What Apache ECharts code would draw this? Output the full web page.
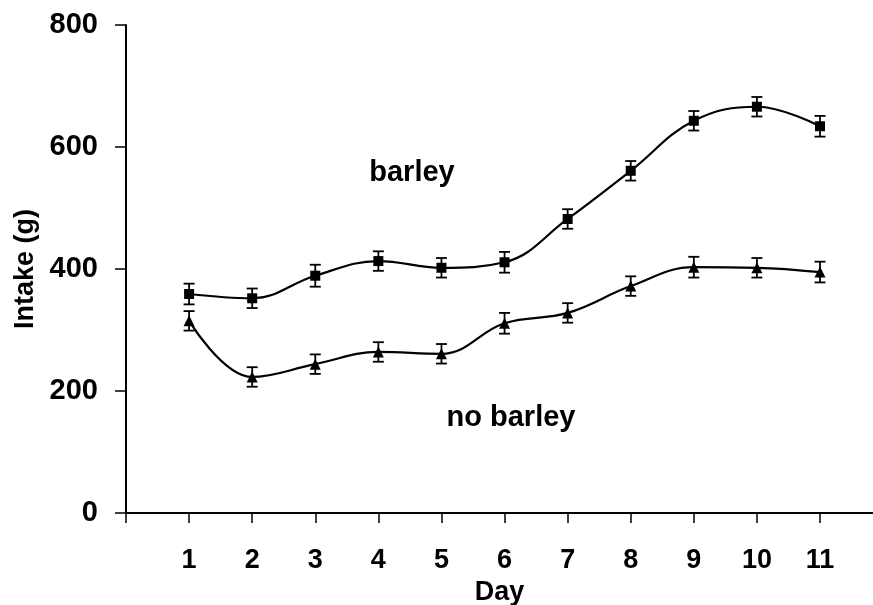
<!DOCTYPE html>
<html>
<head>
<meta charset="utf-8">
<script src="https://cdn.jsdelivr.net/npm/echarts@6/dist/echarts.min.js"></script>
<style>html,body{margin:0;padding:0;background:#fff;}#c{width:873px;height:605px;}</style>
</head>
<body>
<div id="c"></div>
<script>
const days = [1,2,3,4,5,6,7,8,9,10,11];
const barley = [359,352,389,413,402,411,482,561,643,666,634];
const barleyErr = [17,16,18,16,16,17,16,16,16,16,17];
const noBarley = [315,223,244,264,261,311,328,372,403,402,395];
const noBarleyErr = [16,16,16,16,16,17,16,16,17,16,17];
const yTicks = [0,200,400,600,800];
const xTickLabels = ['','1','2','3','4','5','6','7','8','9','10','11'];

const FONT = '"Liberation Sans", Arial, sans-serif';
const chart = echarts.init(document.getElementById('c'), null, {renderer:'canvas'});

function errData(vals, errs){ return days.map((d,i)=>[d, vals[i]-errs[i], vals[i]+errs[i]]); }
function errRender(params, api){
  const x = api.value(0);
  const lo = api.coord([x, api.value(1)]);
  const hi = api.coord([x, api.value(2)]);
  const w = 5.5;
  const st = {stroke:'#000', lineWidth:1.8};
  return {type:'group', children:[
    {type:'line', shape:{x1:lo[0],y1:lo[1],x2:hi[0],y2:hi[1]}, style:st},
    {type:'line', shape:{x1:lo[0]-w,y1:lo[1],x2:lo[0]+w,y2:lo[1]}, style:st},
    {type:'line', shape:{x1:hi[0]-w,y1:hi[1],x2:hi[0]+w,y2:hi[1]}, style:st}
  ]};
}

chart.setOption({
  animation:false,
  backgroundColor:'#fff',
  grid:{left:126, top:25, right:0, height:488, outerBoundsMode:'none', containLabel:false},
  xAxis:[{
    type:'value', min:0, max:11.84, interval:1,
    name:'Day', nameLocation:'middle', nameGap:63,
    nameTextStyle:{fontFamily:FONT, fontWeight:'bold', fontSize:27, color:'#000'},
    axisLine:{show:true, onZero:false, lineStyle:{color:'#000', width:2}},
    axisTick:{show:true, length:10, inside:false, lineStyle:{color:'#000', width:1.5}},
    axisLabel:{margin:34, fontFamily:FONT, fontWeight:'bold', fontSize:27, color:'#000',
      showMaxLabel:false, formatter:(v)=>xTickLabels[v] || ''},
    splitLine:{show:false}
  },{
    type:'value', min:0, max:11.84, position:'top',
    axisLine:{show:true, lineStyle:{color:'#000', width:2}},
    axisTick:{show:false}, axisLabel:{show:false}, splitLine:{show:false}
  }],
  yAxis:{
    type:'value', min:yTicks[0], max:yTicks[yTicks.length-1], interval:200,
    name:'Intake (g)', nameLocation:'middle', nameGap:81, nameRotate:90,
    nameTextStyle:{fontFamily:FONT, fontWeight:'bold', fontSize:27, color:'#000'},
    axisLine:{show:true, lineStyle:{color:'#000', width:2}},
    axisTick:{show:true, length:11, lineStyle:{color:'#000', width:1.5}},
    axisLabel:{margin:28, fontFamily:FONT, fontWeight:'bold', fontSize:29, color:'#000'},
    splitLine:{show:false}
  },
  series:[
    {type:'line', name:'barley', data:days.map((d,i)=>[d,barley[i]]), smooth:0.4,
      symbol:'rect', symbolSize:10, lineStyle:{color:'#000', width:2.2},
      itemStyle:{color:'#000'}, z:3},
    {type:'line', name:'no barley', data:days.map((d,i)=>[d,noBarley[i]]), smooth:0.4,
      symbol:'triangle', symbolSize:11, lineStyle:{color:'#000', width:2.2},
      itemStyle:{color:'#000'}, z:3},
    {type:'custom', data:errData(barley,barleyErr), renderItem:errRender, z:4},
    {type:'custom', data:errData(noBarley,noBarleyErr), renderItem:errRender, z:4}
  ],
  graphic:[
    {type:'text', x:412, y:173, style:{text:'barley', font:'bold 29px '+FONT, fill:'#000', textAlign:'center', textVerticalAlign:'middle'}},
    {type:'text', x:511, y:418, style:{text:'no barley', font:'bold 29px '+FONT, fill:'#000', textAlign:'center', textVerticalAlign:'middle'}}
  ]
});
</script>
</body>
</html>
